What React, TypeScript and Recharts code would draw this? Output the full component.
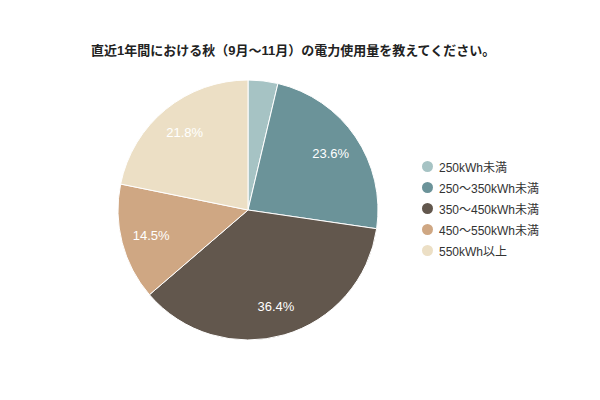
import { PieChart, Pie, Cell, Legend } from "recharts";

const categories = ["250kWh未満", "250〜350kWh未満", "350〜450kWh未満", "450〜550kWh未満", "550kWh以上"];
const shares = [3.7, 23.6, 36.4, 14.5, 21.8];
const colors = ["#a6c3c4", "#6b9399", "#62574d", "#cfa783", "#ecdfc5"];

const data = categories.map((name, i) => ({ name, value: shares[i] }));

const FONT = '"Liberation Sans", Arial, "Noto Sans CJK JP", sans-serif';
const RAD = Math.PI / 180;

// 小さいスライス（5%未満）はラベルを出さない
function renderLabel(props: any) {
  const { cx, cy, midAngle, value } = props;
  if (value < 5) return null;
  const r = 100;
  const x = cx + r * Math.cos(-midAngle * RAD);
  const y = cy + r * Math.sin(-midAngle * RAD);
  return (
    <text x={x} y={y} fill="#fff" textAnchor="middle" dominantBaseline="central" fontSize={13} fontFamily={FONT}>
      {`${value.toFixed(1)}%`}
    </text>
  );
}

function LegendList() {
  return (
    <div style={{ fontFamily: FONT, fontSize: 12, color: "#333" }}>
      {data.map((d, i) => (
        <div key={d.name} style={{ display: "flex", alignItems: "center", height: 21 }}>
          <span style={{ width: 11, height: 11, borderRadius: "50%", background: colors[i], marginRight: 6 }} />
          <span>{d.name}</span>
        </div>
      ))}
    </div>
  );
}

export default function App() {
  return (
    <div style={{ position: "absolute", left: 0, top: 0, width: 600, height: 400, background: "#fff" }}>
      <div style={{ position: "absolute", left: 91, top: 40, fontFamily: FONT, fontSize: 13, fontWeight: 700, color: "#222" }}>
        直近1年間における秋（9月〜11月）の電力使用量を教えてください。
      </div>
      <PieChart width={600} height={400} margin={{ top: 0, right: 0, bottom: 0, left: 0 }}>
        <Pie
          data={data}
          dataKey="value"
          nameKey="name"
          cx={248}
          cy={210}
          outerRadius={130}
          startAngle={90}
          endAngle={-270}
          stroke="#fff"
          strokeWidth={1}
          label={renderLabel}
          labelLine={false}
          isAnimationActive={false}
        >
          {data.map((d, i) => (
            <Cell key={d.name} fill={colors[i]} />
          ))}
        </Pie>
        <Legend content={<LegendList />} wrapperStyle={{ left: 422, top: 156, width: 170 }} />
      </PieChart>
    </div>
  );
}
